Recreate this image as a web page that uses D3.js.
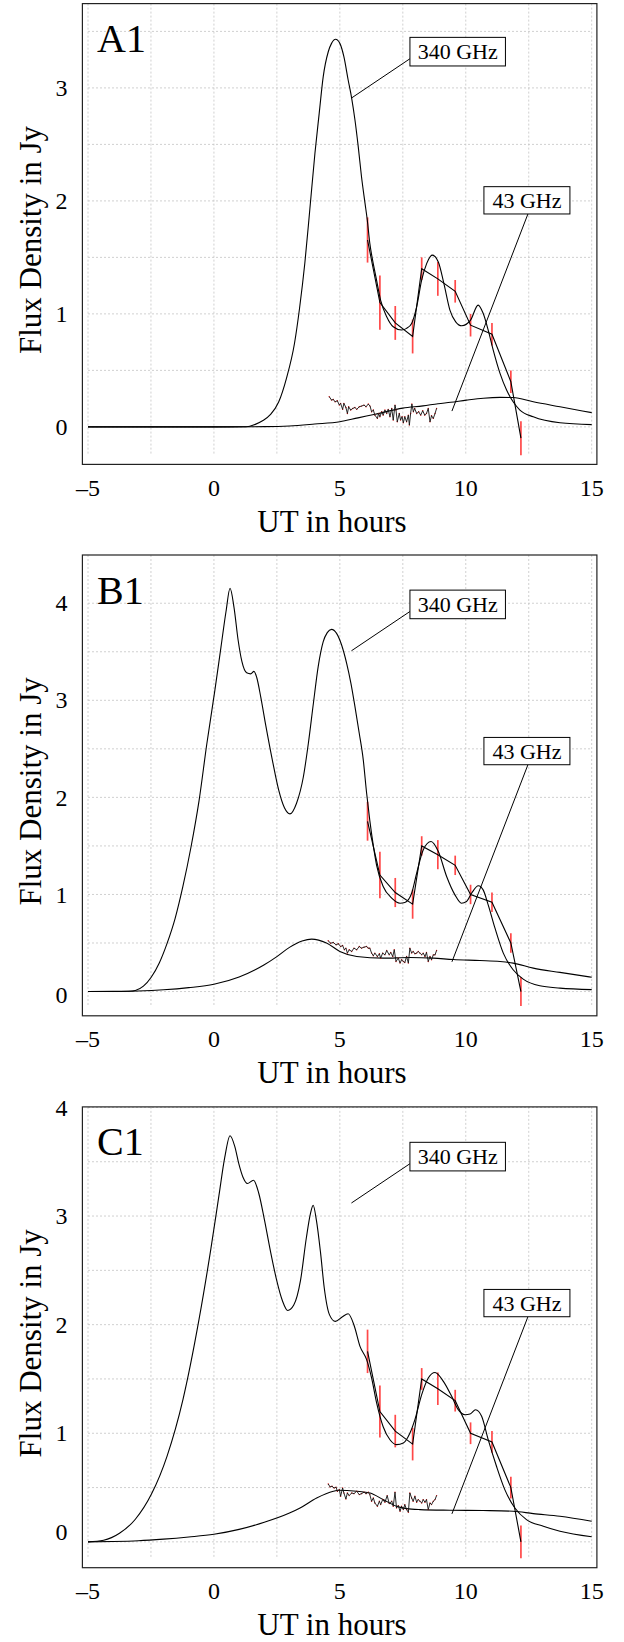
<!DOCTYPE html>
<html><head><meta charset="utf-8">
<script src="https://cdn.jsdelivr.net/npm/d3@7"></script>
<style>
body{margin:0;background:#fff}
svg{display:block}
text{font-family:"Liberation Serif","Times New Roman",serif;fill:#000}
</style>
</head><body>
<svg id="chart" width="624" height="1642"></svg>
<script>
// ---------------- data ----------------
const panelNames = ["A1", "B1", "C1"];
const xTicks = [-5, 0, 5, 10, 15];
const xTickLabels = ["–5", "0", "5", "10", "15"];
const yTicksA = [0, 1, 2, 3];
const yTicksB = [0, 1, 2, 3, 4];
const yTicksC = [0, 1, 2, 3, 4];
const yLimA = [-0.332, 3.746];
const yLimB = [-0.25, 4.497];
const yLimC = [-0.238, 4.005];
const seriesLabels = ["340 GHz", "43 GHz"];

// observed 340 GHz points with error bars
const obsX   = [6.10, 6.59, 7.20, 7.89, 8.25, 8.89, 9.58, 10.19, 11.04, 11.79, 12.19];
const obsA   = [1.654, 1.10, 0.92, 0.80, 1.40, 1.31, 1.20, 0.90, 0.82, 0.40, -0.10];
const obsBC  = [1.754, 1.20, 1.02, 0.90, 1.50, 1.41, 1.30, 1.00, 0.92, 0.50, 0.00];
const obsErr = [0.20, 0.24, 0.15, 0.15, 0.10, 0.15, 0.10, 0.10, 0.10, 0.10, 0.15];

// model curves
const m340A = [[-5,0],[-2,0],[0,0],[1.3,0.001],[1.62,0.02],[1.93,0.054],[2.25,0.11],[2.57,0.22],[2.88,0.43],[3.2,0.74],[3.4,1.05],[3.61,1.45],[3.81,1.93],[4.01,2.42],[4.18,2.775],[4.34,3.10],[4.54,3.32],[4.67,3.394],[4.83,3.43],[5.0,3.394],[5.16,3.276],[5.33,3.07],[5.47,2.908],[5.60,2.716],[5.73,2.48],[5.86,2.214],[6.0,1.978],[6.09,1.83],[6.19,1.624],[6.30,1.476],[6.43,1.33],[6.62,1.12],[6.86,0.975],[7.12,0.886],[7.45,0.857],[7.65,0.872],[7.85,0.916],[8.05,1.063],[8.25,1.30],[8.45,1.447],[8.67,1.52],[8.91,1.46],[9.13,1.27],[9.37,1.034],[9.6,0.93],[9.84,0.895],[10.19,0.945],[10.49,1.078],[10.69,1.005],[10.89,0.857],[11.09,0.68],[11.36,0.474],[11.62,0.326],[11.88,0.222],[12.15,0.149],[12.68,0.089],[13.74,0.036],[15,0.02]];
const m43A = [[-5,0],[0,0],[2,0.002],[3,0.008],[4,0.025],[5,0.045],[5.72,0.08],[6.4,0.112],[7.5,0.166],[8.3,0.186],[8.9,0.205],[9.4,0.218],[10.03,0.237],[10.7,0.254],[11.36,0.261],[11.88,0.26],[12.68,0.222],[13.74,0.178],[15,0.126]];

const m340B = [[-5,0],[-4,0],[-3.4,0.003],[-3.12,0.011],[-2.80,0.055],[-2.49,0.147],[-2.17,0.294],[-1.86,0.496],[-1.54,0.754],[-1.23,1.085],[-0.91,1.489],[-0.59,1.967],[-0.28,2.555],[0.04,3.107],[0.28,3.548],[0.48,3.915],[0.64,4.154],[0.80,3.952],[0.96,3.621],[1.11,3.40],[1.30,3.283],[1.46,3.272],[1.59,3.298],[1.70,3.235],[1.86,3.033],[2.06,2.739],[2.33,2.371],[2.57,2.077],[2.80,1.893],[3.02,1.83],[3.28,1.94],[3.55,2.21],[3.75,2.558],[3.95,2.97],[4.14,3.347],[4.34,3.604],[4.50,3.697],[4.67,3.731],[4.87,3.69],[5.07,3.57],[5.27,3.381],[5.44,3.175],[5.60,2.935],[5.77,2.661],[5.93,2.386],[6.06,2.05],[6.19,1.76],[6.33,1.50],[6.46,1.30],[6.72,1.082],[7.06,0.962],[7.39,0.910],[7.58,0.917],[7.85,1.013],[8.05,1.219],[8.31,1.459],[8.62,1.545],[8.91,1.442],[9.24,1.185],[9.57,0.996],[9.83,0.910],[10.03,0.927],[10.23,1.013],[10.50,1.089],[10.69,1.047],[10.89,0.893],[11.16,0.653],[11.49,0.396],[11.88,0.224],[12.28,0.128],[12.94,0.059],[13.74,0.035],[15,0.02]];
const m43B = [[-5,0],[-4,0.002],[-3,0.006],[-2,0.018],[-1,0.04],[0,0.075],[1,0.15],[2,0.276],[2.5,0.36],[3,0.455],[3.5,0.52],[3.88,0.54],[4.47,0.50],[5.0,0.413],[5.67,0.361],[6.72,0.344],[7.78,0.35],[8.71,0.344],[9.5,0.33],[10.56,0.32],[11.36,0.31],[11.88,0.293],[12.68,0.241],[13.74,0.197],[15,0.147]];

const m340C = [[-5,0],[-4.38,0.015],[-3.75,0.079],[-3.12,0.208],[-2.49,0.435],[-1.86,0.79],[-1.23,1.31],[-0.59,2.05],[-0.12,2.70],[0.20,3.19],[0.43,3.54],[0.64,3.74],[0.83,3.64],[0.99,3.48],[1.15,3.36],[1.33,3.30],[1.57,3.33],[1.78,3.21],[2.01,2.96],[2.25,2.67],[2.49,2.41],[2.72,2.22],[2.93,2.13],[3.17,2.18],[3.44,2.41],[3.67,2.80],[3.83,3.02],[3.94,3.10],[4.07,2.96],[4.23,2.67],[4.38,2.34],[4.59,2.09],[4.82,2.03],[5.09,2.07],[5.33,2.10],[5.57,1.99],[5.80,1.80],[6.06,1.68],[6.26,1.51],[6.46,1.28],[6.72,1.06],[6.99,0.94],[7.25,0.895],[7.52,0.91],[7.78,1.0],[7.98,1.125],[8.25,1.355],[8.51,1.508],[8.78,1.56],[9.11,1.478],[9.44,1.34],[9.70,1.217],[9.97,1.171],[10.17,1.177],[10.39,1.217],[10.63,1.156],[10.89,0.941],[11.22,0.696],[11.55,0.481],[11.95,0.312],[12.41,0.205],[13.08,0.144],[13.74,0.098],[15,0.047]];
const m43C = [[-5,0],[-4,0.003],[-3,0.01],[-2,0.025],[-1,0.045],[0,0.07],[1,0.115],[2,0.18],[3,0.265],[3.42,0.312],[4.08,0.404],[4.74,0.466],[4.94,0.475],[5.67,0.466],[6.20,0.450],[6.72,0.389],[7.25,0.328],[7.65,0.306],[8.18,0.297],[9.37,0.291],[10.69,0.288],[11.88,0.282],[12.68,0.26],[13.74,0.236],[15,0.19]];

// observed 43 GHz traces
const nA = [[4.58,0.267],[4.67,0.237],[4.74,0.243],[4.81,0.222],[4.90,0.231],[4.98,0.193],[5.03,0.208],[5.11,0.155],[5.16,0.208],[5.24,0.172],[5.30,0.119],[5.35,0.178],[5.43,0.149],[5.51,0.163],[5.60,0.172],[5.67,0.155],[5.77,0.178],[5.86,0.184],[5.96,0.193],[6.04,0.178],[6.13,0.202],[6.20,0.184],[6.26,0.134],[6.33,0.149],[6.39,0.104],[6.49,0.075],[6.54,0.119],[6.59,0.090],[6.66,0.134],[6.72,0.104],[6.79,0.149],[6.86,0.119],[6.92,0.155],[6.99,0.090],[7.06,0.163],[7.12,0.060],[7.19,0.193],[7.23,0.149],[7.28,0.045],[7.36,0.119],[7.41,0.060],[7.47,0.090],[7.52,0.036],[7.58,0.090],[7.65,0.045],[7.72,0.104],[7.76,0.016],[7.81,0.119],[7.86,0.202],[7.92,0.134],[7.97,0.163],[8.05,0.119],[8.13,0.134],[8.21,0.104],[8.29,0.143],[8.37,0.104],[8.44,0.119],[8.51,0.163],[8.58,0.045],[8.64,0.099],[8.71,0.075],[8.78,0.119],[8.84,0.163]];
const nB = [[4.54,0.523],[4.63,0.498],[4.74,0.505],[4.85,0.481],[4.94,0.492],[5.03,0.464],[5.11,0.474],[5.18,0.430],[5.24,0.447],[5.30,0.396],[5.37,0.430],[5.47,0.413],[5.56,0.447],[5.67,0.430],[5.77,0.464],[5.86,0.447],[5.96,0.457],[6.06,0.464],[6.13,0.447],[6.19,0.447],[6.26,0.396],[6.33,0.368],[6.39,0.396],[6.49,0.361],[6.57,0.389],[6.62,0.344],[6.70,0.396],[6.79,0.378],[6.86,0.423],[6.96,0.378],[7.02,0.402],[7.10,0.361],[7.16,0.430],[7.23,0.310],[7.32,0.344],[7.39,0.293],[7.45,0.327],[7.52,0.310],[7.58,0.299],[7.65,0.361],[7.72,0.293],[7.78,0.447],[7.85,0.396],[7.91,0.413],[7.98,0.389],[8.05,0.396],[8.11,0.413],[8.18,0.396],[8.25,0.378],[8.31,0.396],[8.38,0.361],[8.44,0.402],[8.51,0.310],[8.58,0.361],[8.64,0.327],[8.71,0.378],[8.78,0.378],[8.84,0.423]];
const nC = [[4.54,0.533],[4.61,0.506],[4.69,0.512],[4.77,0.496],[4.85,0.503],[4.90,0.466],[4.98,0.481],[5.03,0.420],[5.11,0.496],[5.16,0.450],[5.24,0.395],[5.30,0.450],[5.37,0.426],[5.47,0.450],[5.56,0.444],[5.67,0.466],[5.77,0.435],[5.86,0.444],[5.96,0.457],[6.04,0.444],[6.13,0.457],[6.19,0.435],[6.26,0.374],[6.33,0.404],[6.39,0.358],[6.49,0.328],[6.57,0.374],[6.62,0.343],[6.70,0.389],[6.79,0.365],[6.88,0.426],[6.96,0.352],[7.06,0.374],[7.12,0.328],[7.19,0.457],[7.25,0.312],[7.32,0.334],[7.39,0.282],[7.45,0.328],[7.52,0.297],[7.58,0.343],[7.65,0.297],[7.72,0.273],[7.78,0.450],[7.85,0.404],[7.91,0.374],[7.98,0.420],[8.05,0.365],[8.11,0.389],[8.18,0.374],[8.25,0.358],[8.31,0.389],[8.38,0.365],[8.44,0.389],[8.51,0.297],[8.58,0.358],[8.64,0.343],[8.71,0.374],[8.78,0.389],[8.84,0.426]];

// pin targets (data coordinates)
const pin340X = 5.46;
const pin340Y = [2.91, 3.51, 3.12];
const pin43X = 9.45;
const pin43Y = [0.14, 0.306, 0.258];

// ---------------- layout ----------------
const FONT = "Liberation Serif, Times New Roman, serif";
const frameL = 82.4, frameR = 596.9, frameH = 460.8;
const panelTops = [3.6, 555.0, 1106.9];
const zeroLabelShift = [0, 3, -10];

const panels = [
  {name: panelNames[0], yLim: yLimA, yTicks: yTicksA, m340: m340A, m43: m43A, obs: obsA, noisy: nA},
  {name: panelNames[1], yLim: yLimB, yTicks: yTicksB, m340: m340B, m43: m43B, obs: obsBC, noisy: nB},
  {name: panelNames[2], yLim: yLimC, yTicks: yTicksC, m340: m340C, m43: m43C, obs: obsBC, noisy: nC}
];

const svg = d3.select("#chart");
const x = d3.scaleLinear().domain([-5, 15]).range([88, 591.7]);

panels.forEach((p, i) => {
  const top = panelTops[i], bot = top + frameH;
  const y = d3.scaleLinear().domain(p.yLim).range([bot, top]);
  const g = svg.append("g");

  // grid
  const hGrid = d3.range(0, p.yLim[1] + 1e-6, 0.5);
  g.selectAll(".hg").data(hGrid).join("line")
    .attr("x1", x(-5)).attr("x2", x(15))
    .attr("y1", d => y(d)).attr("y2", d => y(d))
    .attr("stroke", "#c4c4c4").attr("stroke-width", 0.8).attr("stroke-dasharray", "2,2");
  const vGrid = d3.range(-5, 15.001, 2.5);
  g.selectAll(".vg").data(vGrid).join("line")
    .attr("x1", d => x(d)).attr("x2", d => x(d))
    .attr("y1", top).attr("y2", bot - 9)
    .attr("stroke", "#c4c4c4").attr("stroke-width", 0.8).attr("stroke-dasharray", "2,2");

  const line = d3.line().x(d => x(d[0])).y(d => y(d[1]));
  const smooth = d3.line().x(d => x(d[0])).y(d => y(d[1])).curve(d3.curveMonotoneX);

  // error bars
  g.selectAll(".eb").data(obsX).join("line")
    .attr("x1", d => x(d)).attr("x2", d => x(d))
    .attr("y1", (d, k) => y(p.obs[k] - obsErr[k]))
    .attr("y2", (d, k) => y(p.obs[k] + obsErr[k]))
    .attr("stroke", "#ff3535").attr("stroke-width", 1.7).attr("opacity", 0.9);

  // model curves
  g.append("path").datum(p.m340).attr("d", smooth)
    .attr("fill", "none").attr("stroke", "#000").attr("stroke-width", 1.1);
  g.append("path").datum(p.m43).attr("d", smooth)
    .attr("fill", "none").attr("stroke", "#000").attr("stroke-width", 1.1);

  // observed 340 polyline
  g.append("path").datum(obsX.map((d, k) => [d, p.obs[k]])).attr("d", line)
    .attr("fill", "none").attr("stroke", "#000").attr("stroke-width", 1.1);

  // observed 43 noisy trace
  g.selectAll(".nd").data(p.noisy).join("circle")
    .attr("cx", d => x(d[0])).attr("cy", d => y(d[1])).attr("r", 0.7)
    .attr("fill", "#d81818");
  g.append("path").datum(p.noisy).attr("d", line)
    .attr("fill", "none").attr("stroke", "#111").attr("stroke-width", 0.9);

  // frame
  g.append("rect").attr("x", frameL).attr("y", top)
    .attr("width", frameR - frameL).attr("height", frameH)
    .attr("fill", "none").attr("stroke", "#222").attr("stroke-width", 1.2);

  // x tick labels
  g.selectAll(".xt").data(xTicks).join("text")
    .attr("x", d => x(d)).attr("y", bot + 31.4)
    .attr("text-anchor", "middle").attr("font-family", FONT).attr("font-size", 24)
    .text((d, k) => xTickLabels[k]);

  // y tick labels
  g.selectAll(".yt").data(p.yTicks).join("text")
    .attr("x", 67.5).attr("y", d => y(d) + (d === 0 ? zeroLabelShift[i] : 0))
    .attr("dy", "0.34em")
    .attr("text-anchor", "end").attr("font-family", FONT).attr("font-size", 24)
    .text(d => d);

  // axis titles
  g.append("text").attr("x", 332).attr("y", bot + 67.5)
    .attr("text-anchor", "middle").attr("font-family", FONT).attr("font-size", 31).text("UT in hours");
  g.append("text")
    .attr("transform", `translate(40.5,${(top + bot) / 2 + 6}) rotate(-90)`)
    .attr("text-anchor", "middle").attr("font-family", FONT).attr("font-size", 31).text("Flux Density in Jy");

  // panel name
  g.append("text").attr("x", 97).attr("y", top + 48.5)
    .attr("font-family", FONT).attr("font-size", 40).text(p.name);

  // pins
  const pins = [
    {tx: x(pin340X), ty: y(pin340Y[i]), dx: 58.5, dy: -60.7, w: 95.5, h: 28.6, ax: 0, ay: 21.4, label: seriesLabels[0]},
    {tx: x(pin43X), ty: y(pin43Y[i]), dx: 32, dy: -224.4, w: 86, h: 27.3, ax: 44, ay: 27.3, label: seriesLabels[1]}
  ];
  pins.forEach(q => {
    const bx = q.tx + q.dx, by = q.ty + q.dy;
    g.append("line").attr("x1", q.tx).attr("y1", q.ty)
      .attr("x2", bx + q.ax).attr("y2", by + q.ay)
      .attr("stroke", "#000").attr("stroke-width", 1);
    g.append("rect").attr("x", bx).attr("y", by).attr("width", q.w).attr("height", q.h)
      .attr("fill", "#fff").attr("stroke", "#000").attr("stroke-width", 1);
    g.append("text").attr("x", bx + q.w / 2).attr("y", by + q.h / 2).attr("dy", "0.35em")
      .attr("text-anchor", "middle").attr("font-family", FONT).attr("font-size", 22).text(q.label);
  });
});
</script>
</body></html>
